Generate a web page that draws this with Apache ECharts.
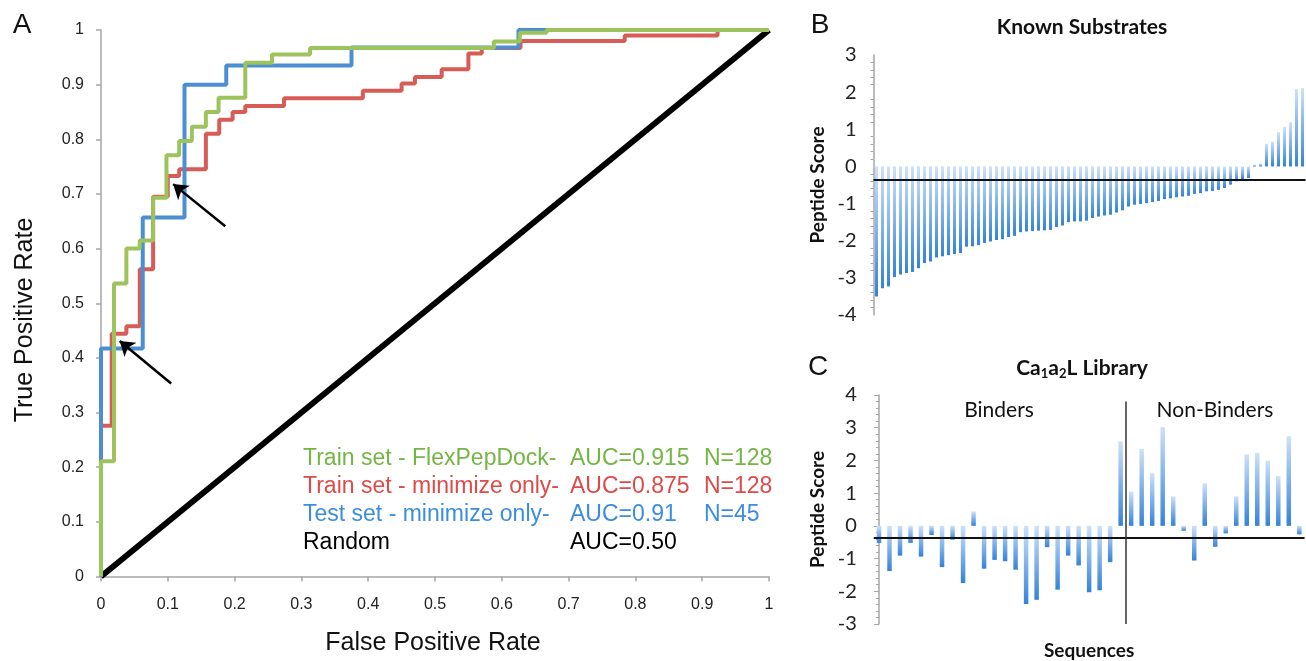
<!DOCTYPE html>
<html>
<head>
<meta charset="utf-8">
<title>ROC curves and peptide scores</title>
<script src="https://cdn.jsdelivr.net/npm/echarts@6/dist/echarts.min.js"></script>
<style>
  html, body { margin: 0; padding: 0; background: #fff; }
  #chart { width: 1306px; height: 661px; }
</style>
</head>
<body>
<div id="chart"></div>
<script>
  // panel A: corners of each ROC staircase, [false positive rate, true positive rate]
  var flexPepDockRoc = [[0, 0], [0, 0.211], [0.0195, 0.211], [0.0195, 0.536], [0.038, 0.536], [0.038, 0.6],
    [0.058, 0.6], [0.058, 0.615], [0.078, 0.615], [0.078, 0.693], [0.098, 0.693], [0.098, 0.771],
    [0.117, 0.771], [0.117, 0.797], [0.136, 0.797], [0.136, 0.823], [0.157, 0.823], [0.157, 0.85],
    [0.176, 0.85], [0.176, 0.876], [0.216, 0.876], [0.216, 0.94], [0.256, 0.94], [0.256, 0.955],
    [0.313, 0.955], [0.313, 0.967], [0.588, 0.967], [0.588, 0.979], [0.627, 0.979], [0.627, 0.995],
    [0.667, 0.995], [0.667, 1], [1, 1]];
  var trainMinimizeRoc = [[0, 0], [0, 0.276], [0.016, 0.276], [0.016, 0.444], [0.038, 0.444], [0.038, 0.458],
    [0.058, 0.458], [0.058, 0.562], [0.078, 0.562], [0.078, 0.695], [0.1, 0.695], [0.1, 0.733],
    [0.117, 0.733], [0.117, 0.745], [0.157, 0.745], [0.157, 0.81], [0.177, 0.81], [0.177, 0.836],
    [0.197, 0.836], [0.197, 0.85], [0.216, 0.85], [0.216, 0.861], [0.274, 0.861], [0.274, 0.875],
    [0.392, 0.875], [0.392, 0.889], [0.45, 0.889], [0.45, 0.902], [0.47, 0.902], [0.47, 0.914],
    [0.51, 0.914], [0.51, 0.928], [0.55, 0.928], [0.55, 0.957], [0.57, 0.957], [0.57, 0.967],
    [0.628, 0.967], [0.628, 0.98], [0.784, 0.98], [0.784, 0.99], [0.923, 0.99], [0.923, 1], [1, 1]];
  var testMinimizeRoc = [[0, 0], [0, 0.417], [0.0625, 0.417], [0.0625, 0.657], [0.125, 0.657], [0.125, 0.9],
    [0.1875, 0.9], [0.1875, 0.935], [0.375, 0.935], [0.375, 0.968], [0.625, 0.968], [0.625, 1], [1, 1]];
  var randomRoc = [[0, 0], [1, 1]];

  var legendNames = ['Train set - FlexPepDock-', 'Train set - minimize only-', 'Test set - minimize only-', 'Random'];
  var legendAuc = ['AUC=0.915', 'AUC=0.875', 'AUC=0.91', 'AUC=0.50'];
  var legendN = ['N=128', 'N=128', 'N=45', ''];

  // arrows, in ROC data units
  var arrowTails = [[0.186, 0.641], [0.105, 0.353]];
  var arrowTips = [[0.108, 0.718], [0.028, 0.431]];

  // panel B
  var knownSubstrateScores = [-3.50, -3.28, -3.23, -2.98, -2.91, -2.87, -2.84, -2.74, -2.60, -2.56,
    -2.45, -2.42, -2.39, -2.36, -2.33, -2.16, -2.15, -2.12, -2.06, -2.02,
    -1.98, -1.96, -1.90, -1.87, -1.77, -1.75, -1.74, -1.73, -1.72, -1.71,
    -1.63, -1.59, -1.50, -1.48, -1.48, -1.46, -1.39, -1.35, -1.32, -1.30,
    -1.24, -1.18, -1.08, -1.03, -1.01, -0.99, -0.96, -0.93, -0.88, -0.86,
    -0.83, -0.81, -0.79, -0.74, -0.72, -0.67, -0.66, -0.63, -0.58, -0.49,
    -0.40, -0.34, -0.31, 0.04, 0.07, 0.61, 0.67, 0.92, 1.06, 1.19,
    2.08, 2.11];

  // panel C
  var libraryScores = [-0.52, -1.38, -0.91, -0.52, -0.94, -0.28, -1.26, -0.42, -1.75, 0.44,
    -1.31, -1.04, -1.08, -1.34, -2.39, -2.26, -0.65, -1.95, -0.91, -1.21,
    -2.03, -1.97, -1.11, 2.58, 1.05, 2.35, 1.61, 3.02, 0.90, -0.15,
    -1.06, 1.30, -0.64, -0.23, 0.90, 2.18, 2.23, 1.99, 1.52, 2.74, -0.26];
  var binderCount = 24;
  var dividerTop = 3.8;
  var scoreThreshold = -0.37;

  var axisGray = '#a6a6a6';
  var rocFont = 'Liberation Sans';
  var panelFont = 'Lato';
  var legendColors = ['#74b544', '#de4a47', '#3b8de3', '#000'];

  var substrateCategories = knownSubstrateScores.map(function (v, i) { return i; });
  var libraryPoints = libraryScores.map(function (v, i) { return [i, v]; });

  var barColor = new echarts.graphic.LinearGradient(0, 0, 0, 1, [
    {offset: 0, color: '#cde1fa'},
    {offset: 1, color: '#3482d9'}
  ]);

  var chart = echarts.init(document.getElementById('chart'));

  function rocAxis(extra) {
    var a = {
      type: 'value', gridIndex: 0, min: 0, max: 1, interval: 0.1,
      axisLine: {lineStyle: {color: axisGray, width: 1.5}},
      axisTick: {length: 5, lineStyle: {color: axisGray, width: 1.5}},
      axisLabel: {color: '#222', fontFamily: rocFont, fontSize: 16},
      splitLine: {show: false}
    };
    return Object.assign(a, extra);
  }

  function scoreAxis(grid, min, max) {
    return {
      type: 'value', gridIndex: grid, min: min, max: max, interval: 1,
      name: 'Peptide Score', nameLocation: 'middle', nameGap: 46, nameRotate: 90,
      nameTextStyle: {fontFamily: panelFont, fontWeight: 'bold', fontSize: 19, color: '#111'},
      axisLine: {show: true, lineStyle: {color: axisGray, width: 1.5}},
      axisTick: {length: 5, lineStyle: {color: axisGray}},
      minorTick: {show: true, splitNumber: 5, length: 3, lineStyle: {color: axisGray}},
      axisLabel: {color: '#222', fontFamily: panelFont, fontSize: 20, margin: 17},
      splitLine: {show: false}
    };
  }

  var texts = [
    {text: 'A', x: 22, y: 25, font: rocFont, size: 28},
    {text: 'B', x: 820, y: 25, font: rocFont, size: 28},
    {text: 'C', x: 818, y: 367, font: rocFont, size: 28},
    {text: 'False Positive Rate', x: 433, y: 643, font: rocFont, size: 25},
    {text: 'Known Substrates', x: 1082, y: 27, font: panelFont, size: 21, bold: true},
    {text: 'Binders', x: 999, y: 410, font: panelFont, size: 21},
    {text: 'Non-Binders', x: 1215, y: 410, font: panelFont, size: 21}
  ];

  var graphic = texts.map(function (t) {
    return {
      type: 'text', x: t.x, y: t.y, silent: true,
      style: {text: t.text, fontFamily: t.font, fontSize: t.size, fontWeight: t.bold ? 'bold' : 'normal',
        fill: '#111', align: 'center', verticalAlign: 'middle'}
    };
  });

  graphic.push({
    type: 'text', x: 25, y: 320, rotation: Math.PI / 2, silent: true,
    style: {text: 'True Positive Rate', fontFamily: rocFont, fontSize: 25, fill: '#111',
      align: 'center', verticalAlign: 'middle'}
  });

  graphic.push({
    type: 'text', x: 1082, y: 368, silent: true,
    style: {
      text: '{n|Ca}{s|1}{n|a}{s|2}{n|L Library}', align: 'center', verticalAlign: 'middle',
      rich: {
        n: {fontFamily: panelFont, fontWeight: 'bold', fontSize: 21, fill: '#111'},
        s: {fontFamily: panelFont, fontWeight: 'bold', fontSize: 13, fill: '#111', padding: [12, 0, 0, 0]}
      }
    }
  });

  // legend rows inside panel A
  var legendCols = [303, 570, 704];
  legendNames.forEach(function (name, i) {
    [name, legendAuc[i], legendN[i]].forEach(function (txt, c) {
      if (!txt) return;
      graphic.push({
        type: 'text', x: legendCols[c], y: 459 + i * 28, silent: true,
        style: {text: txt, fontFamily: rocFont, fontSize: 23, fill: legendColors[i],
          align: 'left', verticalAlign: 'middle'}
      });
    });
  });

  var option = {
    animation: false,
    grid: [
      {left: 101, top: 30, width: 668, height: 546.5},
      {left: 873.5, top: 55, width: 432, height: 260},
      {left: 873.75, top: 395, width: 430.8, height: 237.7}
    ],
    xAxis: [
      rocAxis({axisLabel: {color: '#222', fontFamily: rocFont, fontSize: 16, margin: 20}}),
      {type: 'category', gridIndex: 1, data: substrateCategories, show: false},
      {
        type: 'value', gridIndex: 2, min: -0.5, max: libraryScores.length - 0.5,
        name: 'Sequences', nameLocation: 'middle', nameGap: 17,
        nameTextStyle: {fontFamily: panelFont, fontWeight: 'bold', fontSize: 19, color: '#111'},
        axisLine: {show: false}, axisTick: {show: false}, axisLabel: {show: false},
        splitLine: {show: false}
      }
    ],
    yAxis: [
      rocAxis({axisLabel: {color: '#222', fontFamily: rocFont, fontSize: 16, margin: 17}}),
      scoreAxis(1, -4, 3),
      scoreAxis(2, -3, 4)
    ],
    graphic: graphic,
    series: [
      {
        type: 'line', xAxisIndex: 0, yAxisIndex: 0, data: randomRoc, symbol: 'none', silent: true,
        lineStyle: {color: '#000', width: 6},
        markLine: {
          silent: true, symbol: ['none', 'arrow'], symbolSize: 14,
          label: {show: false},
          lineStyle: {color: '#000', width: 2.5, type: 'solid'},
          data: arrowTails.map(function (p, i) {
            return [{coord: p}, {coord: arrowTips[i]}];
          })
        }
      },
      {
        type: 'line', xAxisIndex: 0, yAxisIndex: 0, data: trainMinimizeRoc, symbol: 'none', silent: true,
        lineStyle: {color: '#d65c55', width: 4}
      },
      {
        type: 'line', xAxisIndex: 0, yAxisIndex: 0, data: testMinimizeRoc, symbol: 'none', silent: true,
        lineStyle: {color: '#4b8fd2', width: 4}
      },
      {
        type: 'line', xAxisIndex: 0, yAxisIndex: 0, data: flexPepDockRoc, symbol: 'none', silent: true,
        lineStyle: {color: '#9dc45c', width: 4}
      },
      {
        type: 'bar', xAxisIndex: 1, yAxisIndex: 1, data: knownSubstrateScores, barWidth: 3, silent: true,
        itemStyle: {color: barColor},
        markLine: {
          silent: true, symbol: 'none', label: {show: false},
          lineStyle: {color: '#111', width: 2, type: 'solid'},
          data: [{yAxis: scoreThreshold}]
        }
      },
      {
        type: 'bar', xAxisIndex: 2, yAxisIndex: 2, data: libraryPoints, barWidth: 4.5, silent: true,
        itemStyle: {color: barColor},
        markLine: {
          silent: true, symbol: 'none', label: {show: false},
          lineStyle: {color: '#111', width: 2, type: 'solid'},
          data: [
            {yAxis: scoreThreshold},
            [{coord: [binderCount - 0.5, -3], lineStyle: {color: '#333', width: 1.5}},
              {coord: [binderCount - 0.5, dividerTop]}]
          ]
        }
      }
    ]
  };

  chart.setOption(option);
</script>
</body>
</html>
